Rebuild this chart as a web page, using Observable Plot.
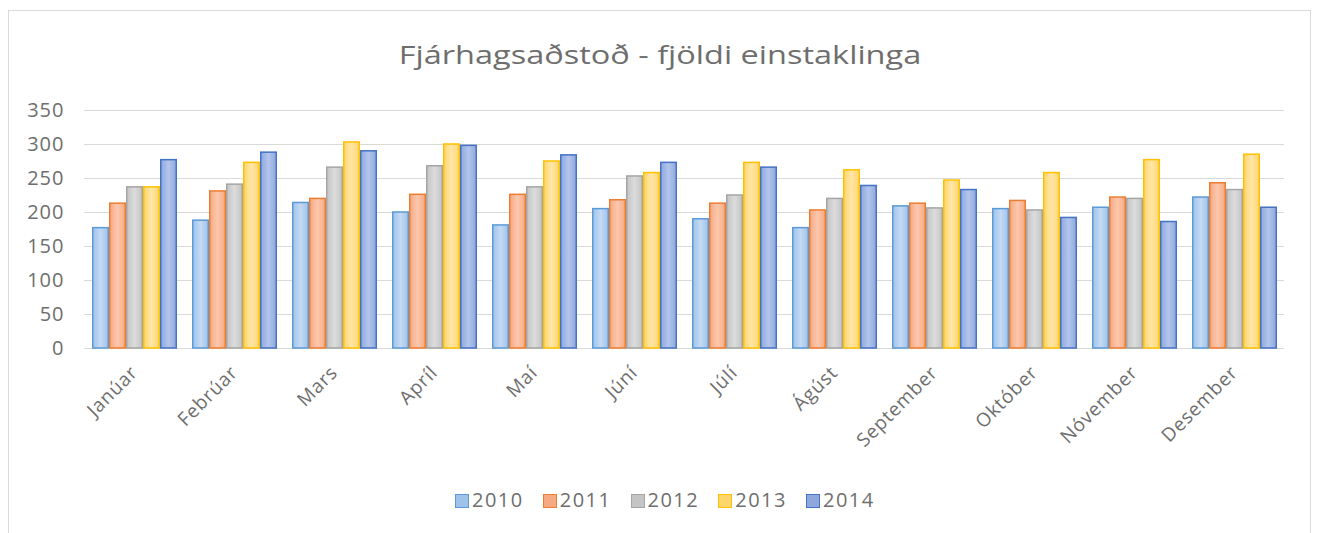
<!DOCTYPE html>
<html>
<head>
<meta charset="utf-8">
<script src="https://cdn.jsdelivr.net/npm/d3@7"></script>
<script src="https://cdn.jsdelivr.net/npm/@observablehq/plot@0.6"></script>
<style>
  body { margin: 0; background: #fff; }
  #wrap { position: relative; width: 1320px; height: 533px; overflow: hidden; font-family: "Open Sans", sans-serif; background: #fff; }
  #frame { position: absolute; left: 8px; top: 10px; width: 1303px; height: 530px; border: 1px solid #d9d9d9; box-sizing: border-box; }
  #title { position: absolute; top: 39px; left: 0; width: 1320px; text-align: center; font-size: 25px; color: #6e6e6e; line-height: 30px; }
  #title span { display: inline-block; transform: scaleX(1.3); transform-origin: 50% 50%; }
  #chart { position: absolute; left: 0; top: 90px; }
  #chart svg { overflow: visible; }
  #legend { position: absolute; top: 486px; left: 455px; font-size: 20px; color: #6e6e6e; line-height: 28px; letter-spacing: 1.5px; white-space: nowrap; }
  .item { display: inline-block; margin-right: 19px; }
  .sw { display: inline-block; width: 14px; height: 14px; margin-right: 3px; vertical-align: -1px; box-sizing: border-box; border: 1.5px solid; }
</style>
</head>
<body>
<div id="wrap">
  <div id="frame"></div>
  <div id="title"><span>Fjárhagsaðstoð - fjöldi einstaklinga</span></div>
  <div id="chart"></div>
  <div id="legend"></div>
</div>
<script>
const months = ["Janúar", "Febrúar", "Mars", "Apríl", "Maí", "Júní", "Júlí", "Ágúst", "September", "Október", "Nóvember", "Desember"];
const years = ["2010", "2011", "2012", "2013", "2014"];
const v2010 = [177, 188, 214, 200, 181, 205, 190, 177, 209, 205, 207, 222];
const v2011 = [213, 231, 220, 226, 226, 218, 213, 203, 213, 217, 222, 243];
const v2012 = [237, 241, 266, 268, 237, 253, 225, 220, 206, 203, 220, 233];
const v2013 = [237, 273, 303, 300, 275, 258, 273, 262, 247, 258, 277, 285];
const v2014 = [277, 288, 290, 298, 284, 273, 266, 239, 233, 192, 186, 207];
const yTicks = [0, 50, 100, 150, 200, 250, 300, 350];

const fillColors = ["#9fc2ea", "#f7a982", "#c4c4c4", "#ffd56e", "#8ea8dd"];
const lightColors = ["#c4daf4", "#fbc8ae", "#dcdcdc", "#ffe6a6", "#b3c5ec"];
const strokeColors = ["#5b9bd5", "#ed7d31", "#a5a5a5", "#ffc000", "#4472c4"];

const series = [v2010, v2011, v2012, v2013, v2014];
const data = years.flatMap((y, i) => months.map((m, j) => ({ month: m, year: y, value: series[i][j] })));

const marks = [Plot.ruleY(yTicks, { stroke: "#d9d9d9", strokeWidth: 1 })];
years.forEach((y, i) => {
  marks.push(Plot.barY(data.filter(d => d.year === y), {
    fx: "month", x: "year", y: "value",
    fill: `url(#g${y})`, stroke: strokeColors[i], strokeWidth: 1.5,
    insetLeft: 0.75, insetRight: 0.75
  }));
});

const chart = Plot.plot({
  width: 1320,
  height: 385,
  marginTop: 20,
  marginBottom: 127,
  marginLeft: 83,
  marginRight: 35,
  style: { fontFamily: "Open Sans, sans-serif", fontSize: "19px", color: "#6e6e6e", background: "transparent" },
  fx: { domain: months, padding: 0, tickRotate: -45, tickSize: 0, tickPadding: 21, label: null },
  x: { domain: years, axis: null, paddingInner: 0, paddingOuter: 0.28 },
  y: { domain: [0, 350], ticks: yTicks, tickSize: 0, tickPadding: 20, label: null },
  marks
});

const svg = d3.select(chart.tagName.toLowerCase() === "svg" ? chart : chart.querySelector("svg"));
const defs = svg.insert("defs", ":first-child");
years.forEach((y, i) => {
  const g = defs.append("linearGradient").attr("id", "g" + y).attr("x1", 0).attr("x2", 1).attr("y1", 0).attr("y2", 0);
  g.append("stop").attr("offset", "0%").attr("stop-color", fillColors[i]);
  g.append("stop").attr("offset", "50%").attr("stop-color", lightColors[i]);
  g.append("stop").attr("offset", "100%").attr("stop-color", fillColors[i]);
});
// axis label sizing to match the reference typography
svg.selectAll("[aria-label='y-axis tick label'] text, [aria-label='y-axis'] text").style("font-size", "20px").style("letter-spacing", "1px");
svg.selectAll("[aria-label='fx-axis tick label'] text, [aria-label='fx-axis'] text").style("letter-spacing", "0.8px");
document.getElementById("chart").appendChild(chart);

const legend = d3.select("#legend");
years.forEach((y, i) => {
  const it = legend.append("span").attr("class", "item");
  it.append("span").attr("class", "sw").style("background", fillColors[i]).style("border-color", strokeColors[i]);
  it.append("span").text(y);
});
</script>
</body>
</html>
